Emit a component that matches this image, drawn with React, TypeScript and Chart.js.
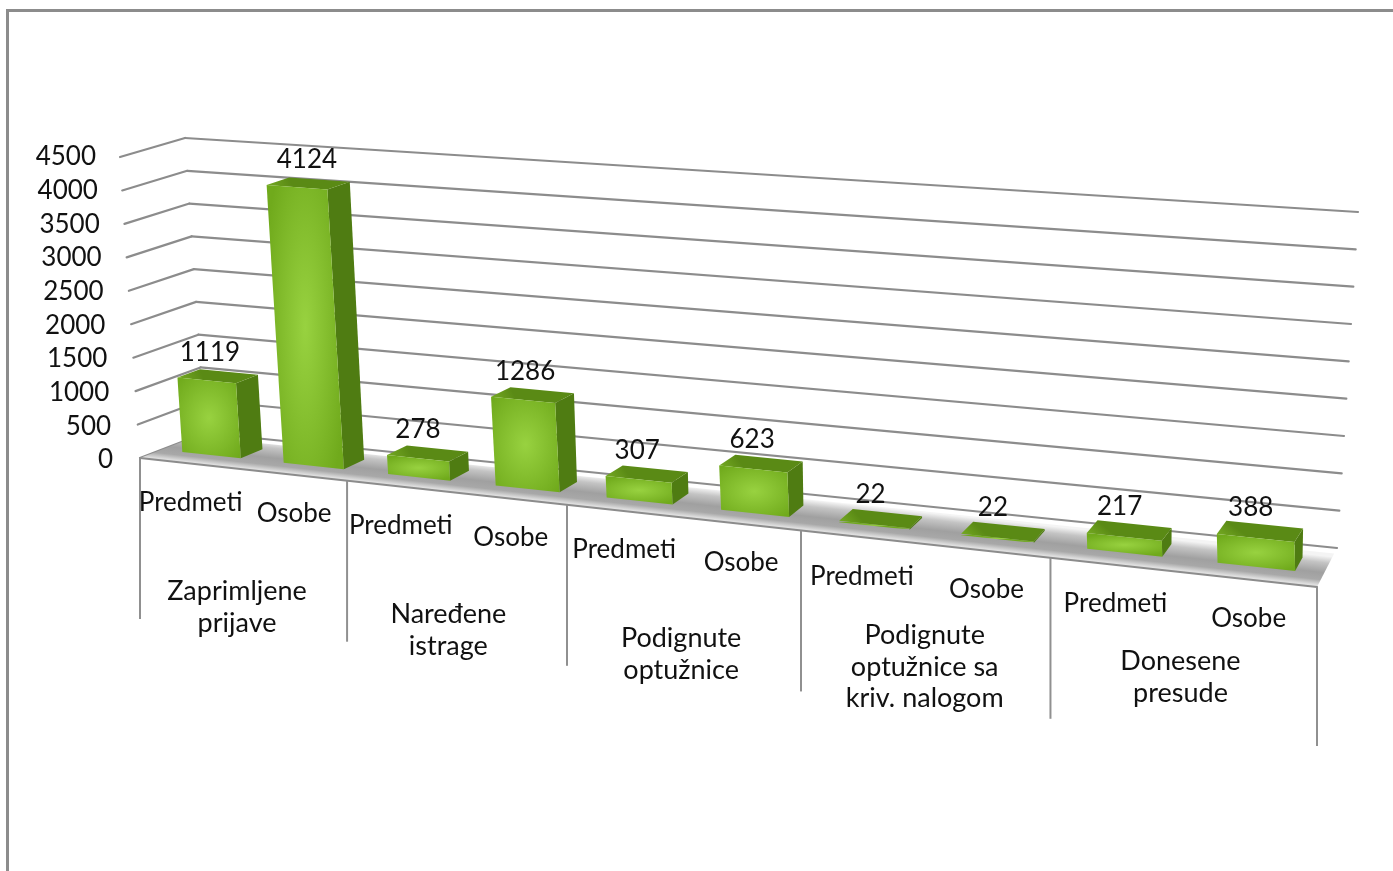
import React, { useEffect, useRef } from "react";
import { Chart, registerables } from "chart.js";

Chart.register(...registerables);

const GROUPS = [
  ["Zaprimljene", "prijave"],
  ["Naređene", "istrage"],
  ["Podignute", "optužnice"],
  ["Podignute", "optužnice sa", "kriv. nalogom"],
  ["Donesene", "presude"],
];
const SUBLABELS = ["Predmeti", "Osobe", "Predmeti", "Osobe", "Predmeti", "Osobe", "Predmeti", "Osobe", "Predmeti", "Osobe"];
const VALUES = [1119, 4124, 278, 1286, 307, 623, 22, 22, 217, 388];
const Y_MAX = 4500;
const Y_STEP = 500;

// Perspective layout of the 3D box (pixel corners of the front and back planes)
const FRONT = { l0: [140, 458], r0: [1317, 587], lt: [120, 157], rt: [1296, 247] };
const BACK = { l0: [205, 433], r0: [1337, 548], lt: [185, 138], rt: [1358, 212] };
const PERSPECTIVE = 1.171;
const BAR_DEPTH = [0.33, 0.68];
const FLOOR_DEPTH = 0.86;
const GROUP_DY = [122.5, 122, 121, 91.5, 89.5];
const GROUP_DX = [-5, -7, -1, 1, -1];
const FONT = "Lato";
const GRID = "#8c8c8c";
const INK = "#111111";

const lerp = (a: number, b: number, k: number) => a + (b - a) * k;
const warp = (t: number) => t / (t + PERSPECTIVE * (1 - t));

function project(t: number, value: number, depth: number): [number, number] {
  const h = warp(t);
  const v = value / Y_MAX;
  const plane = (p: typeof FRONT) => {
    const lx = lerp(p.l0[0], p.lt[0], v), ly = lerp(p.l0[1], p.lt[1], v);
    const rx = lerp(p.r0[0], p.rt[0], v), ry = lerp(p.r0[1], p.rt[1], v);
    return [lerp(lx, rx, h), lerp(ly, ry, h)];
  };
  const f = plane(FRONT), b = plane(BACK);
  return [lerp(f[0], b[0], depth), lerp(f[1], b[1], depth)];
}

function poly(ctx: CanvasRenderingContext2D, pts: number[][]) {
  ctx.beginPath();
  pts.forEach((p, i) => (i ? ctx.lineTo(p[0], p[1]) : ctx.moveTo(p[0], p[1])));
  ctx.closePath();
}

function line(ctx: CanvasRenderingContext2D, a: number[], b: number[], color = GRID, width = 2.2) {
  ctx.strokeStyle = color;
  ctx.lineWidth = width;
  ctx.beginPath();
  ctx.moveTo(a[0], a[1]);
  ctx.lineTo(b[0], b[1]);
  ctx.stroke();
}

function toT(chart: any, px: number) {
  const a = chart.chartArea;
  return (px - a.left) / (a.right - a.left);
}

function drawBar(ctx: CanvasRenderingContext2D, chart: any, el: any) {
  const yScale = chart.scales.y;
  const t0 = toT(chart, el.x - el.width / 2);
  const t1 = toT(chart, el.x + el.width / 2);
  const val = yScale.getValueForPixel(el.y);
  const base = yScale.getValueForPixel(el.base);
  const [d0, d1] = BAR_DEPTH;
  const fbl = project(t0, base, d0), fbr = project(t1, base, d0);
  const ftl = project(t0, val, d0), ftr = project(t1, val, d0);
  const bbr = project(t1, base, d1);
  const btl = project(t0, val, d1), btr = project(t1, val, d1);

  // right side
  poly(ctx, [ftr, btr, bbr, fbr]);
  ctx.fillStyle = "#4f7c12";
  ctx.fill();

  // top
  poly(ctx, [ftl, ftr, btr, btl]);
  const tg = ctx.createLinearGradient(btl[0], btl[1], ftl[0], ftl[1]);
  tg.addColorStop(0, "#5a8a15");
  tg.addColorStop(1, "#74a922");
  ctx.fillStyle = tg;
  ctx.fill();

  // front
  ctx.save();
  poly(ctx, [ftl, ftr, fbr, fbl]);
  ctx.clip();
  const cx = (ftl[0] + fbr[0]) / 2, cy = (ftl[1] + fbr[1]) / 2;
  const rx = Math.max(1, (fbr[0] - fbl[0]) * 0.72), ry = Math.max(1, (fbl[1] - ftl[1]) * 0.72);
  ctx.translate(cx, cy);
  ctx.scale(rx, ry);
  const fg = ctx.createRadialGradient(0, 0, 0, 0, 0, 1);
  fg.addColorStop(0, "#98d240");
  fg.addColorStop(1, "#70aa1c");
  ctx.fillStyle = fg;
  ctx.fillRect(-3, -3, 6, 6);
  ctx.restore();
}

const perspectivePlugin = {
  id: "perspective",
  beforeDraw(chart: any) {
    // tick labels stay the axes' own; they only follow the slanted box edges
    const { x, y } = chart.scales;
    y.getLabelItems().forEach((item: any, i: number) => {
      const v = y.ticks[i].value;
      item.options.translation[0] = 113 - (17 * v) / Y_MAX;
      item.options.translation[1] = y.getPixelForTick(i) + 2;
      item.options.textAlign = "right";
    });
    x.getLabelItems().forEach((item: any, i: number) => {
      const p = project(toT(chart, x.getPixelForTick(i)), 0, 0);
      item.options.translation[0] = p[0];
      item.options.translation[1] = p[1] + 39;
      item.options.textBaseline = "middle";
      item.options.textAlign = "center";
      item.textOffset = 0;
    });
  },
  beforeDatasetsDraw(chart: any) {
    const ctx: CanvasRenderingContext2D = chart.ctx;
    const y = chart.scales.y;
    ctx.save();
    ctx.lineCap = "round";
    y.ticks.forEach((tick: any) => {
      const v = tick.value;
      const backL = project(0, v, 1);
      line(ctx, project(0, v, 0), backL);
      line(ctx, backL, project(1, v, 1));
    });
    // floor
    const fl = project(0, 0, 0), fr = project(1, 0, 0);
    const bl = project(0, 0, FLOOR_DEPTH), br = project(1, 0, FLOOR_DEPTH);
    poly(ctx, [fl, fr, br, bl]);
    const mx = (bl[0] + br[0]) / 2, my = (bl[1] + br[1]) / 2;
    const g = ctx.createLinearGradient(mx, my, mx - 3.6, my + 33);
    g.addColorStop(0, "#f4f4f4");
    g.addColorStop(0.2, "#c4c4c4");
    g.addColorStop(0.5, "#a0a0a0");
    g.addColorStop(0.72, "#a8a8a8");
    g.addColorStop(0.88, "#dcdcdc");
    g.addColorStop(1, "#eeeeee");
    ctx.fillStyle = g;
    ctx.fill();
    line(ctx, fl, fr);
    ctx.restore();
  },
  beforeDatasetDraw(chart: any, args: any) {
    const ctx: CanvasRenderingContext2D = chart.ctx;
    ctx.save();
    args.meta.data.forEach((el: any) => drawBar(ctx, chart, el));
    ctx.restore();
    return false;
  },
  afterDatasetsDraw(chart: any) {
    const ctx: CanvasRenderingContext2D = chart.ctx;
    const meta = chart.getDatasetMeta(0);
    ctx.save();
    ctx.fillStyle = INK;
    ctx.textAlign = "center";
    ctx.textBaseline = "middle";
    ctx.font = `26px ${FONT}`;
    // data labels
    meta.data.forEach((el: any, i: number) => {
      const v = VALUES[i];
      const p = project(toT(chart, el.x), v, 0.5);
      ctx.fillText(String(v), p[0] - 10 + (10 * v) / Y_MAX, p[1] - 24);
    });
    // group dividers and labels
    ctx.font = `27px ${FONT}`;
    GROUPS.forEach((g, i) => {
      const start = project(i / GROUPS.length, 0, 0);
      line(ctx, start, [start[0], start[1] + 161], "#909090", 2);
      const c = project((i + 0.5) / GROUPS.length, 0, 0);
      g.forEach((text, j) => {
        ctx.fillText(text, c[0] + GROUP_DX[i], c[1] + GROUP_DY[i] + j * 31.5);
      });
    });
    const end = project(1, 0, 0);
    line(ctx, end, [end[0], end[1] + 159], "#909090", 2);
    ctx.restore();
  },
};

export default function App() {
  const ref = useRef<HTMLCanvasElement>(null);
  useEffect(() => {
    const chart = new Chart(ref.current as HTMLCanvasElement, {
      type: "bar",
      data: {
        labels: SUBLABELS,
        datasets: [{ data: VALUES, backgroundColor: "#7fbb28", barPercentage: 0.58, categoryPercentage: 1 }],
      },
      plugins: [perspectivePlugin],
      options: {
        responsive: false,
        animation: false,
        layout: { padding: { top: 155, bottom: 113, left: 10, right: 76 } },
        plugins: { legend: { display: false }, tooltip: { enabled: false } },
        scales: {
          x: {
            afterFit: (s: any) => { s.height = 300; },
            grid: { display: false },
            border: { display: false },
            ticks: { autoSkip: false, maxRotation: 0, color: INK, font: { family: FONT, size: 26 } },
          },
          y: {
            min: 0,
            max: Y_MAX,
            afterFit: (s: any) => { s.width = 130; },
            grid: { display: false },
            border: { display: false },
            ticks: {
              stepSize: Y_STEP,
              autoSkip: false,
              callback: (v: any) => String(v),
              color: INK,
              font: { family: FONT, size: 26 },
            },
          },
        },
      },
    } as any);
    return () => chart.destroy();
  }, []);
  return (
    <div style={{ position: "absolute", left: 0, top: 0, width: 1393, height: 871, overflow: "hidden", background: "#fff" }}>
      <div style={{ position: "absolute", left: 6, top: 9, right: 0, bottom: 0, borderLeft: "3px solid #8c8c8c", borderTop: "3px solid #8c8c8c" }} />
      <canvas ref={ref} width={1393} height={871} style={{ position: "absolute", left: 0, top: 0 }} />
    </div>
  );
}
